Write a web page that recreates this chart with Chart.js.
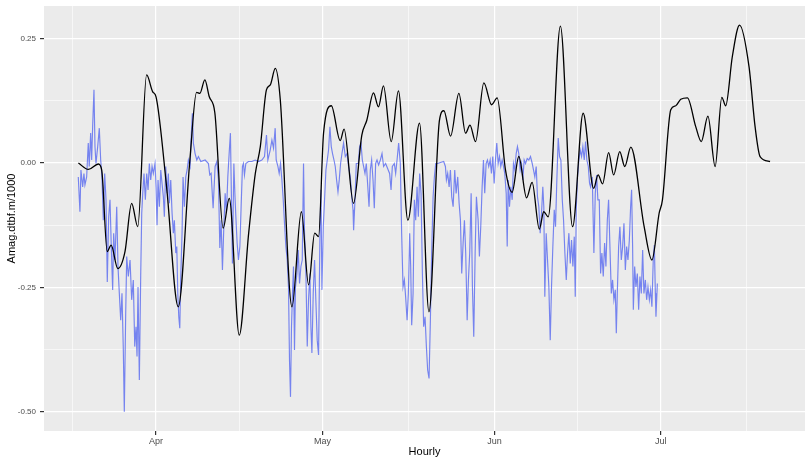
<!DOCTYPE html>
<html>
<head>
    <title>Amag hourly</title>
    <script src="https://cdn.jsdelivr.net/npm/chart.js"></script>
    <style>
        body { margin: 0; background: #ffffff; }
    </style>
</head>
<body>
    <canvas id="myChart" width="810" height="464"></canvas>

    <script>
        // x values are days counted from 1 March (Apr 1 = 31, May 1 = 61, ...)
        var xTickValues = [31, 61, 92, 122];
        var xTickLabels = ['Apr', 'May', 'Jun', 'Jul'];
        var xMinorValues = [16, 46, 76.5, 107, 137.5];
        var yTickValues = [-0.5, -0.25, 0, 0.25];
        var yTickLabels = ['-0.50', '-0.25', '0.00', '0.25'];
        var yMinorValues = [-0.375, -0.125, 0.125];

        // smoothed series (black)
        var smoothDays = [17.0, 18.8, 20.6, 21.2, 22.2, 22.9, 24.1, 25.4, 26.6, 27.7,
            29.3, 30.4, 31.0, 32.9, 35.0, 37.1, 38.3, 38.9, 39.8, 40.6,
            41.6, 43.1, 44.2, 46.0, 47.7, 48.9, 49.8, 50.9, 51.6, 52.5,
            53.4, 55.5, 57.2, 58.5, 59.6, 60.3, 61.2, 62.6, 64.2, 64.9,
            66.6, 68.1, 69.0, 70.2, 71.1, 72.0, 73.4, 74.7, 76.4, 78.5,
            80.2, 82.1, 82.9, 84.1, 85.6, 86.8, 87.6, 88.6, 90.1, 91.5,
            92.5, 94.0, 95.2, 96.4, 97.8, 98.8, 100.1, 100.9, 101.7, 103.9,
            106.1, 108.0, 109.9, 110.7, 111.5, 112.6, 113.5, 114.6, 115.5, 116.6,
            119.0, 120.4, 121.7, 122.3, 123.8, 124.7, 125.6, 126.8, 128.3, 129.3,
            130.5, 131.8, 133.0, 133.7, 134.9, 136.2, 137.9, 139.0, 139.9, 141.7];
        var smoothValues = [0.000, -0.013, -0.002, -0.014, -0.178, -0.165, -0.212, -0.178, -0.081, -0.128,
            0.177, 0.143, 0.133, -0.048, -0.289, 0.006, 0.142, 0.140, 0.167, 0.133,
            0.101, -0.131, -0.071, -0.346, -0.141, -0.021, 0.033, 0.147, 0.157, 0.190,
            0.127, -0.289, -0.098, -0.245, -0.141, -0.148, 0.060, 0.115, 0.045, 0.068,
            -0.081, 0.056, 0.086, 0.141, 0.113, 0.155, 0.043, 0.145, -0.115, 0.080,
            -0.299, 0.086, 0.105, 0.054, 0.140, 0.060, 0.076, 0.043, 0.161, 0.117,
            0.131, -0.014, -0.059, 0.013, -0.070, -0.039, -0.133, -0.098, -0.108, 0.275,
            -0.128, 0.100, -0.051, -0.024, -0.042, 0.021, -0.024, 0.023, -0.007, 0.032,
            -0.128, -0.195, -0.101, -0.074, 0.107, 0.115, 0.128, 0.131, 0.073, 0.043,
            0.094, -0.007, 0.132, 0.115, 0.214, 0.277, 0.194, 0.073, 0.013, 0.003];

        // hourly series (blue)
        var hourlyDays = [16.98, 17.28, 17.46, 17.77, 18.00, 18.18, 18.49, 18.78, 18.96, 19.21,
            19.39, 19.57, 19.81, 19.99, 20.17, 20.48, 20.77, 21.02, 21.25, 21.49,
            21.74, 21.98, 22.21, 22.46, 22.70, 22.93, 23.18, 23.36, 23.60, 23.91,
            24.14, 24.38, 24.63, 24.86, 25.10, 25.28, 25.53, 25.71, 26.00, 26.31,
            26.61, 26.90, 27.16, 27.39, 27.57, 27.75, 27.99, 28.24, 28.42, 28.60,
            28.83, 29.07, 29.32, 29.56, 29.79, 30.04, 30.28, 30.51, 30.82, 31.00,
            31.18, 31.36, 31.60, 31.85, 32.08, 32.32, 32.50, 32.75, 32.99, 33.22,
            33.40, 33.65, 33.89, 34.12, 34.30, 34.56, 34.74, 34.92, 35.10, 35.28,
            35.46, 35.69, 35.87, 36.11, 36.36, 36.60, 36.83, 37.14, 37.37, 37.55,
            37.73, 38.04, 38.35, 38.64, 39.07, 39.85, 40.44, 40.69, 40.93, 41.29,
            41.65, 41.96, 42.25, 42.50, 42.73, 42.97, 43.22, 43.46, 43.69, 43.94,
            44.18, 44.41, 44.59, 44.77, 45.03, 45.21, 45.39, 45.62, 45.86, 46.11,
            46.34, 46.58, 46.76, 46.94, 47.19, 47.66, 48.27, 48.87, 49.47, 50.08,
            50.55, 50.91, 51.16, 51.58, 51.89, 52.18, 52.48, 52.66, 52.97, 53.20,
            53.44, 53.69, 53.93, 54.16, 54.41, 54.65, 54.88, 55.06, 55.24, 55.42,
            55.60, 55.78, 55.96, 56.14, 56.40, 56.63, 56.87, 57.12, 57.36, 57.59,
            57.77, 58.02, 58.26, 58.49, 58.74, 58.92, 59.10, 59.34, 59.58, 59.83,
            60.06, 60.30, 60.55, 60.73, 60.91, 61.15, 61.38, 61.63, 61.87, 62.10,
            62.35, 62.59, 62.82, 63.08, 63.31, 63.55, 63.80, 64.03, 64.27, 64.52,
            64.81, 65.12, 65.42, 65.71, 66.02, 66.33, 66.51, 66.62, 66.87, 67.10,
            67.47, 67.70, 67.95, 68.19, 68.42, 68.67, 68.91, 69.14, 69.40, 69.63,
            69.87, 70.12, 70.35, 70.59, 70.84, 71.13, 71.44, 71.74, 72.03, 72.39,
            72.75, 73.11, 73.37, 73.60, 73.96, 74.20, 74.45, 74.74, 75.04, 75.28,
            75.53, 75.77, 76.00, 76.26, 76.49, 76.73, 76.91, 77.09, 77.34, 77.57,
            77.81, 78.06, 78.29, 78.53, 78.78, 79.02, 79.25, 79.50, 79.74, 79.97,
            80.22, 80.46, 80.69, 80.95, 81.18, 81.42, 81.78, 82.27, 82.86, 83.17,
            83.35, 83.58, 83.84, 84.07, 84.31, 84.56, 84.85, 85.10, 85.39, 85.64,
            85.88, 86.11, 86.36, 86.60, 86.83, 87.09, 87.32, 87.55, 87.81, 88.04,
            88.28, 88.53, 88.76, 89.07, 89.30, 89.54, 89.79, 90.03, 90.26, 90.51,
            90.75, 90.98, 91.24, 91.47, 91.71, 91.96, 92.19, 92.43, 92.68, 92.92,
            93.15, 93.40, 93.64, 93.87, 94.13, 94.31, 94.49, 94.72, 94.96, 95.21,
            95.44, 95.68, 95.93, 96.16, 96.40, 96.65, 96.89, 97.12, 97.37, 97.61,
            97.92, 98.21, 98.51, 98.82, 99.05, 99.29, 99.54, 99.77, 100.01, 100.26,
            100.50, 100.73, 100.91, 101.09, 101.34, 101.58, 101.82, 102.07, 102.30, 102.54,
            102.79, 103.02, 103.26, 103.51, 103.75, 103.99, 104.24, 104.47, 104.71, 104.96,
            105.19, 105.43, 105.68, 105.91, 106.15, 106.40, 106.58, 106.76, 106.99, 107.23,
            107.48, 107.72, 107.95, 108.20, 108.44, 108.67, 108.93, 109.16, 109.34, 109.65,
            109.94, 110.19, 110.43, 110.66, 110.91, 111.15, 111.38, 111.63, 111.87, 112.11,
            112.36, 112.59, 112.83, 113.08, 113.31, 113.55, 113.80, 113.98, 114.16, 114.40,
            114.63, 114.88, 115.12, 115.36, 115.61, 115.84, 116.08, 116.33, 116.56, 116.74,
            116.92, 117.05, 117.29, 117.52, 117.77, 118.01, 118.24, 118.49, 118.73, 118.96,
            119.22, 119.45, 119.69, 119.94, 120.17, 120.40, 120.66, 120.84, 121.02, 121.13,
            121.38];
        var hourlyValues = [-0.028, -0.098, -0.014, -0.048, -0.021, -0.044, -0.028, 0.040, -0.007, 0.060,
            0.006, 0.073, 0.147, 0.033, -0.001, 0.033, 0.070, 0.006, -0.028, -0.115,
            -0.021, -0.074, -0.239, -0.108, -0.074, -0.168, -0.255, -0.141, -0.195, -0.088,
            -0.208, -0.262, -0.316, -0.262, -0.376, -0.500, -0.302, -0.188, -0.228, -0.195,
            -0.275, -0.235, -0.369, -0.329, -0.389, -0.249, -0.436, -0.222, -0.101, -0.061,
            -0.021, -0.074, -0.021, -0.054, -0.001, -0.034, -0.007, -0.021, -0.001, -0.048,
            -0.125, -0.034, -0.088, -0.014, -0.041, -0.068, -0.108, -0.007, -0.061, -0.021,
            -0.081, -0.034, -0.101, -0.141, -0.115, -0.181, -0.168, -0.262, -0.309, -0.332,
            -0.228, -0.141, -0.028, -0.088, -0.028, -0.014, 0.006, -0.007, 0.060, 0.100,
            0.040, 0.019, 0.006, 0.013, 0.003, 0.006, -0.001, -0.024, -0.021, -0.091,
            -0.007, 0.003, -0.034, -0.171, -0.115, -0.215, -0.128, -0.061, -0.101, -0.028,
            0.019, 0.060, -0.068, -0.202, -0.001, -0.061, -0.108, -0.161, -0.195, -0.168,
            -0.088, -0.007, -0.001, -0.024, -0.001, 0.003, 0.003, 0.006, 0.003, 0.006,
            0.013, 0.056, 0.006, 0.026, 0.046, 0.030, 0.070, 0.006, -0.007, -0.021,
            -0.001, -0.034, -0.074, -0.121, -0.168, -0.195, -0.249, -0.396, -0.470, -0.329,
            -0.262, -0.208, -0.376, -0.249, -0.222, -0.175, -0.242, -0.208, -0.195, -0.001,
            -0.141, -0.222, -0.369, -0.275, -0.222, -0.329, -0.382, -0.262, -0.195, -0.282,
            -0.356, -0.386, -0.141, -0.054, -0.255, -0.128, -0.074, -0.014, 0.006, 0.026,
            0.073, 0.033, 0.019, 0.006, -0.007, -0.034, -0.058, -0.034, -0.001, 0.019,
            0.040, 0.013, 0.019, -0.007, -0.028, -0.074, -0.094, -0.135, -0.074, -0.001,
            -0.001, 0.033, 0.040, 0.006, -0.007, -0.021, -0.001, -0.041, -0.088, -0.014,
            0.006, -0.034, -0.091, -0.001, 0.006, -0.004, 0.006, 0.019, -0.007, -0.001,
            -0.011, -0.021, -0.054, -0.007, -0.001, -0.021, 0.006, 0.040, -0.001, -0.141,
            -0.249, -0.235, -0.269, -0.316, -0.262, -0.141, -0.208, -0.326, -0.262, -0.074,
            -0.115, -0.048, -0.108, -0.021, -0.061, -0.222, -0.329, -0.309, -0.369, -0.416,
            -0.433, -0.316, -0.181, -0.068, -0.028, -0.001, -0.001, 0.001, 0.003, -0.007,
            -0.034, -0.021, -0.048, -0.014, -0.068, -0.088, -0.014, -0.061, -0.028, -0.081,
            -0.115, -0.222, -0.161, -0.115, -0.181, -0.316, -0.235, -0.181, -0.061, -0.249,
            -0.349, -0.181, -0.068, -0.115, -0.188, -0.128, -0.048, 0.006, -0.061, -0.001,
            0.006, -0.007, 0.006, -0.021, 0.013, -0.041, 0.006, 0.040, -0.001, 0.013,
            -0.007, 0.006, -0.007, -0.021, -0.061, -0.168, -0.034, -0.088, -0.048, -0.074,
            -0.001, -0.014, 0.019, 0.033, 0.019, -0.014, -0.001, -0.034, 0.006, -0.001,
            0.009, 0.006, 0.013, -0.001, -0.014, -0.028, -0.007, -0.068, -0.088, -0.141,
            -0.101, -0.048, -0.088, -0.269, -0.141, -0.195, -0.249, -0.356, -0.249, -0.168,
            -0.094, -0.128, -0.034, 0.050, 0.013, 0.006, -0.074, -0.115, -0.181, -0.235,
            -0.181, -0.141, -0.202, -0.155, -0.208, -0.148, -0.269, -0.094, -0.028, 0.006,
            0.026, 0.013, 0.033, 0.006, 0.043, 0.006, -0.007, -0.041, -0.048, -0.028,
            -0.181, -0.061, -0.024, -0.074, -0.074, -0.222, -0.181, -0.228, -0.161, -0.208,
            -0.115, -0.074, -0.168, -0.262, -0.235, -0.275, -0.255, -0.342, -0.262, -0.168,
            -0.128, -0.195, -0.168, -0.121, -0.215, -0.168, -0.195, -0.155, -0.088, -0.054,
            -0.168, -0.295, -0.208, -0.249, -0.222, -0.295, -0.228, -0.262, -0.175, -0.262,
            -0.235, -0.275, -0.249, -0.275, -0.255, -0.289, -0.188, -0.165, -0.262, -0.309,
            -0.242];

        function toPoints(xs, ys) {
            var pts = [];
            for (var i = 0; i < xs.length; i++) {
                pts.push({ x: xs[i], y: ys[i] });
            }
            return pts;
        }

        function isMajor(list, v) {
            return list.indexOf(v) !== -1;
        }

        // grey panel behind the plot area
        var panelBackground = {
            id: 'panelBackground',
            beforeDraw: function (chart) {
                var c = chart.ctx, a = chart.chartArea;
                c.save();
                c.fillStyle = '#EBEBEB';
                c.fillRect(a.left, a.top, a.right - a.left, a.bottom - a.top);
                c.restore();
            }
        };

        var ctx = document.getElementById('myChart').getContext('2d');

        var myChart = new Chart(ctx, {
            type: 'line',
            data: {
                datasets: [
                    {
                        label: 'smooth',
                        data: toPoints(smoothDays, smoothValues),
                        borderColor: '#000000',
                        borderWidth: 1.3,
                        pointRadius: 0,
                        cubicInterpolationMode: 'monotone',
                        fill: false
                    },
                    {
                        label: 'hourly',
                        data: toPoints(hourlyDays, hourlyValues),
                        borderColor: 'rgba(70, 90, 240, 0.72)',
                        borderWidth: 1.15,
                        pointRadius: 0,
                        tension: 0,
                        fill: false
                    }
                ]
            },
            options: {
                responsive: false,
                animation: false,
                layout: { padding: { top: 6, right: 5, left: 0, bottom: 0 } },
                plugins: {
                    legend: { display: false },
                    tooltip: { enabled: false }
                },
                scales: {
                    x: {
                        type: 'linear',
                        min: 10.8,
                        max: 148.0,
                        afterBuildTicks: function (scale) {
                            scale.ticks = xTickValues.concat(xMinorValues)
                                .sort(function (a, b) { return a - b; })
                                .map(function (v) { return { value: v }; });
                        },
                        afterFit: function (scale) {
                            scale.height = 33;
                            scale.paddingLeft = 0;
                            scale.paddingRight = 0;
                        },
                        ticks: {
                            autoSkip: false,
                            maxRotation: 0,
                            padding: 1,
                            color: '#4D4D4D',
                            font: { family: 'Liberation Sans, Arial, sans-serif', size: 9 },
                            callback: function (v) {
                                var i = xTickValues.indexOf(v);
                                return i === -1 ? '' : xTickLabels[i];
                            }
                        },
                        grid: {
                            color: '#FFFFFF',
                            lineWidth: function (c) { return isMajor(xTickValues, c.tick.value) ? 1.2 : 0.6; },
                            tickColor: function (c) { return isMajor(xTickValues, c.tick.value) ? '#333333' : 'rgba(0,0,0,0)'; },
                            tickLength: 4
                        },
                        border: { display: false },
                        title: {
                            display: true,
                            text: 'Hourly',
                            color: '#000000',
                            font: { family: 'Liberation Sans, Arial, sans-serif', size: 11 },
                            padding: { top: 0, bottom: 5 }
                        }
                    },
                    y: {
                        type: 'linear',
                        min: -0.5386,
                        max: 0.3155,
                        afterBuildTicks: function (scale) {
                            scale.ticks = yTickValues.concat(yMinorValues)
                                .sort(function (a, b) { return a - b; })
                                .map(function (v) { return { value: v }; });
                        },
                        afterFit: function (scale) {
                            scale.width = 44;
                            scale.paddingTop = 0;
                            scale.paddingBottom = 0;
                        },
                        ticks: {
                            padding: 4,
                            color: '#4D4D4D',
                            font: { family: 'Liberation Sans, Arial, sans-serif', size: 8 },
                            callback: function (v) {
                                var i = yTickValues.indexOf(v);
                                return i === -1 ? '' : yTickLabels[i];
                            }
                        },
                        grid: {
                            color: '#FFFFFF',
                            lineWidth: function (c) { return isMajor(yTickValues, c.tick.value) ? 1.2 : 0.6; },
                            tickColor: function (c) { return isMajor(yTickValues, c.tick.value) ? '#333333' : 'rgba(0,0,0,0)'; },
                            tickLength: 4
                        },
                        border: { display: false },
                        title: {
                            display: true,
                            text: 'Amag.dtbf.m/1000',
                            color: '#000000',
                            font: { family: 'Liberation Sans, Arial, sans-serif', size: 11 },
                            padding: { top: 5, bottom: 0 }
                        }
                    }
                }
            },
            plugins: [panelBackground]
        });
    </script>
</body>
</html>
